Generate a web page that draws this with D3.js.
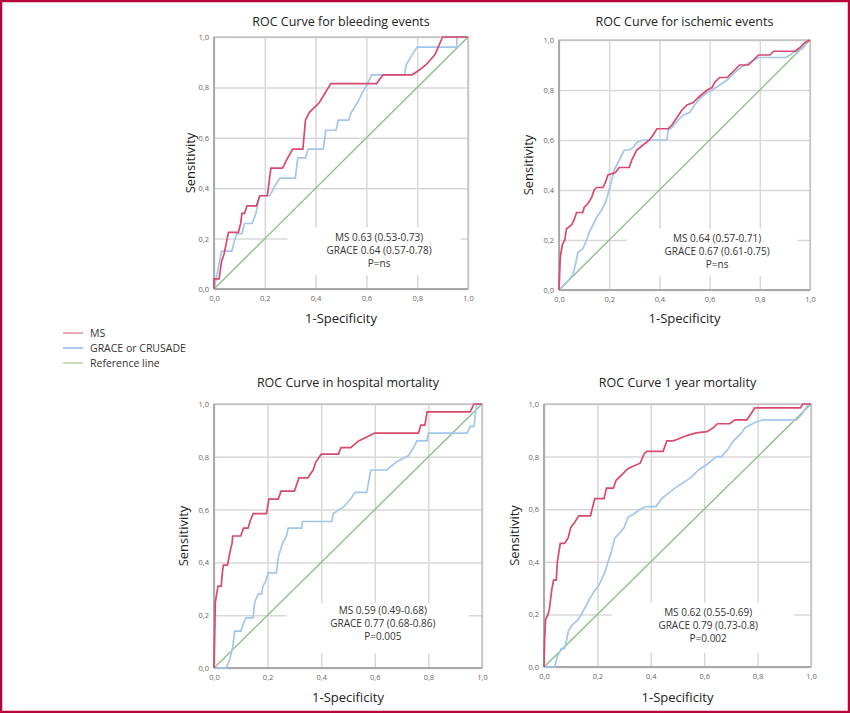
<!DOCTYPE html>
<html>
<head>
<meta charset="utf-8">
<script src="https://cdn.jsdelivr.net/npm/d3@7"></script>
<style>
  body { margin: 0; background: #fff; }
  svg { display: block; font-family: "Open Sans", sans-serif; }
</style>
</head>
<body>
<div id="chart"></div>
<script>
// ROC points [1-specificity, sensitivity]
const msBleeding = [[0,0],[0,0.04],[0.02,0.04],[0.03,0.11],[0.04,0.14],[0.057,0.225],[0.096,0.225],[0.105,0.26],[0.11,0.30],[0.12,0.30],[0.13,0.33],[0.167,0.33],[0.18,0.37],[0.21,0.37],[0.224,0.48],[0.27,0.48],[0.29,0.52],[0.31,0.555],[0.35,0.555],[0.36,0.67],[0.375,0.70],[0.415,0.74],[0.46,0.815],[0.64,0.815],[0.665,0.85],[0.78,0.85],[0.81,0.87],[0.835,0.89],[0.87,0.93],[0.90,1.0],[1,1]]
const graceBleeding = [[0,0],[0.02,0.10],[0.03,0.15],[0.07,0.15],[0.08,0.19],[0.09,0.22],[0.11,0.22],[0.12,0.26],[0.15,0.26],[0.165,0.30],[0.18,0.37],[0.22,0.37],[0.24,0.41],[0.26,0.44],[0.32,0.44],[0.325,0.48],[0.33,0.52],[0.36,0.52],[0.37,0.555],[0.43,0.555],[0.435,0.59],[0.44,0.63],[0.48,0.63],[0.49,0.67],[0.53,0.67],[0.54,0.70],[0.565,0.74],[0.585,0.78],[0.605,0.815],[0.62,0.85],[0.75,0.85],[0.757,0.89],[0.78,0.93],[0.80,0.96],[0.955,0.96],[0.957,1.0],[1,1]]

const msIschemic = [[0,0],[0.005,0.13],[0.013,0.18],[0.023,0.20],[0.03,0.245],[0.05,0.26],[0.06,0.28],[0.07,0.31],[0.095,0.31],[0.10,0.33],[0.115,0.345],[0.13,0.37],[0.14,0.40],[0.15,0.41],[0.175,0.41],[0.185,0.43],[0.195,0.46],[0.225,0.47],[0.24,0.49],[0.28,0.49],[0.29,0.52],[0.31,0.56],[0.335,0.58],[0.36,0.60],[0.375,0.62],[0.39,0.645],[0.435,0.645],[0.45,0.66],[0.47,0.69],[0.49,0.72],[0.51,0.74],[0.535,0.75],[0.555,0.77],[0.59,0.80],[0.61,0.81],[0.62,0.83],[0.64,0.85],[0.67,0.85],[0.69,0.87],[0.72,0.90],[0.755,0.90],[0.775,0.92],[0.795,0.94],[0.84,0.94],[0.855,0.955],[0.94,0.955],[0.96,0.97],[0.98,0.99],[1,1]]
const graceIschemic = [[0,0],[0.03,0.03],[0.055,0.06],[0.065,0.10],[0.075,0.15],[0.095,0.165],[0.11,0.20],[0.12,0.23],[0.135,0.26],[0.15,0.29],[0.17,0.32],[0.185,0.35],[0.20,0.40],[0.21,0.44],[0.22,0.48],[0.23,0.50],[0.245,0.53],[0.26,0.56],[0.28,0.56],[0.295,0.57],[0.31,0.59],[0.335,0.60],[0.43,0.60],[0.435,0.64],[0.45,0.65],[0.475,0.68],[0.495,0.70],[0.52,0.71],[0.54,0.74],[0.565,0.77],[0.59,0.79],[0.61,0.80],[0.64,0.82],[0.67,0.84],[0.70,0.87],[0.725,0.89],[0.76,0.91],[0.795,0.93],[0.905,0.93],[0.935,0.95],[0.975,0.97],[0.99,1.0],[1,1]]

const msHospital = [[0,0],[0.002,0.10],[0.005,0.25],[0.01,0.28],[0.015,0.31],[0.027,0.31],[0.031,0.36],[0.035,0.39],[0.05,0.39],[0.056,0.42],[0.062,0.45],[0.067,0.47],[0.07,0.50],[0.10,0.50],[0.11,0.53],[0.127,0.53],[0.136,0.56],[0.146,0.585],[0.196,0.585],[0.205,0.64],[0.24,0.64],[0.25,0.67],[0.30,0.67],[0.317,0.72],[0.35,0.72],[0.37,0.75],[0.38,0.78],[0.40,0.81],[0.464,0.81],[0.474,0.835],[0.51,0.835],[0.54,0.86],[0.57,0.875],[0.60,0.89],[0.763,0.89],[0.772,0.92],[0.787,0.92],[0.795,0.97],[0.956,0.97],[0.97,1.0],[1,1]]
const graceHospital = [[0,0],[0.046,0],[0.058,0.03],[0.07,0.08],[0.077,0.14],[0.10,0.14],[0.11,0.17],[0.12,0.19],[0.146,0.19],[0.152,0.25],[0.165,0.28],[0.177,0.28],[0.183,0.31],[0.193,0.33],[0.202,0.36],[0.233,0.36],[0.24,0.42],[0.255,0.47],[0.27,0.50],[0.277,0.53],[0.327,0.53],[0.33,0.555],[0.44,0.555],[0.445,0.585],[0.483,0.61],[0.51,0.64],[0.526,0.665],[0.57,0.665],[0.585,0.75],[0.645,0.75],[0.68,0.78],[0.726,0.805],[0.745,0.835],[0.757,0.86],[0.795,0.86],[0.80,0.89],[0.944,0.89],[0.957,0.915],[0.97,0.915],[0.98,1.0],[1,1]]

const msYear = [[0,0],[0.002,0.10],[0.006,0.18],[0.015,0.20],[0.02,0.22],[0.03,0.30],[0.036,0.33],[0.046,0.33],[0.05,0.40],[0.061,0.47],[0.077,0.47],[0.09,0.49],[0.10,0.53],[0.115,0.55],[0.13,0.575],[0.174,0.575],[0.19,0.64],[0.225,0.64],[0.234,0.68],[0.26,0.68],[0.27,0.71],[0.296,0.735],[0.315,0.755],[0.36,0.775],[0.375,0.81],[0.385,0.82],[0.446,0.82],[0.46,0.86],[0.484,0.86],[0.51,0.87],[0.535,0.88],[0.57,0.89],[0.61,0.895],[0.635,0.91],[0.65,0.925],[0.695,0.925],[0.715,0.94],[0.76,0.94],[0.77,0.955],[0.79,0.985],[0.96,0.985],[0.97,1.0],[1,1]]
const graceYear = [[0,0],[0.04,0],[0.05,0.04],[0.065,0.07],[0.077,0.07],[0.084,0.10],[0.092,0.14],[0.106,0.16],[0.128,0.18],[0.14,0.20],[0.156,0.23],[0.171,0.26],[0.19,0.29],[0.205,0.31],[0.215,0.33],[0.228,0.36],[0.24,0.40],[0.253,0.44],[0.265,0.49],[0.284,0.51],[0.30,0.53],[0.315,0.57],[0.334,0.58],[0.36,0.60],[0.384,0.61],[0.42,0.61],[0.44,0.64],[0.465,0.66],[0.49,0.68],[0.52,0.70],[0.55,0.72],[0.58,0.75],[0.61,0.77],[0.646,0.80],[0.665,0.80],[0.69,0.83],[0.71,0.86],[0.74,0.89],[0.753,0.91],[0.79,0.93],[0.82,0.94],[0.946,0.94],[0.965,0.96],[0.99,1.0],[1,1]]

const referenceLine = [[0,0],[1,1]]
const tickValues = [0, 0.2, 0.4, 0.6, 0.8, 1]

const titles = ['ROC Curve for bleeding events', 'ROC Curve for ischemic events', 'ROC Curve in hospital mortality', 'ROC Curve 1 year mortality']
const aucNotes = [
    ['MS 0.63 (0.53-0.73)', 'GRACE 0.64 (0.57-0.78)', 'P=ns'],
    ['MS 0.64 (0.57-0.71)', 'GRACE 0.67 (0.61-0.75)', 'P=ns'],
    ['MS 0.59 (0.49-0.68)', 'GRACE 0.77 (0.68-0.86)', 'P=0.005'],
    ['MS 0.62 (0.55-0.69)', 'GRACE 0.79 (0.73-0.8)', 'P=0.002']
]
const msSeries = [msBleeding, msIschemic, msHospital, msYear]
const graceSeries = [graceBleeding, graceIschemic, graceHospital, graceYear]

const legendNames = ['MS', 'GRACE or CRUSADE', 'Reference line']

const colMS = '#d84a6e', colGrace = '#a3c6ec', colRef = '#86bf7f'
const legendCols = ['#e47b8c', '#7fa9e6', '#a9d18e']

const width = 850, height = 713
const svg = d3.select('#chart').append('svg')
    .attr('width', width)
    .attr('height', height)

// page frame
svg.append('rect')
    .attr('x', 1).attr('y', 1)
    .attr('width', width - 2).attr('height', height - 2)
    .attr('fill', 'none')
    .attr('stroke', '#b8063b')
    .attr('stroke-width', 2.5)

// plot boxes
const panels = [
    {x: 214, y: 37, w: 254, h: 252, titleY: 26, xLabY: 323, yLabX: 190},
    {x: 559, y: 40, w: 251, h: 250, titleY: 26, xLabY: 323, yLabX: 528},
    {x: 214, y: 404, w: 268, h: 264, titleY: 387, xLabY: 702, yLabX: 183},
    {x: 544, y: 404, w: 267, h: 263, titleY: 387, xLabY: 702, yLabX: 514}
]
const notePos = [
    {cx: 0.65, y0: 0.205},
    {cx: 0.63, y0: 0.21},
    {cx: 0.63, y0: 0.22},
    {cx: 0.615, y0: 0.21}
]

panels.forEach((p, i) => {
    const g = svg.append('g').attr('transform', `translate(${p.x},${p.y})`)
    const x = d3.scaleLinear().domain([0, 1]).range([0, p.w])
    const y = d3.scaleLinear().domain([0, 1]).range([p.h, 0])
    const fmt = d => d3.format('.1f')(d).replace('.', ',')

    // grid
    g.append('g')
        .attr('transform', `translate(0,${p.h})`)
        .call(d3.axisBottom(x).tickValues(tickValues).tickSize(-p.h).tickFormat(''))
        .call(a => a.select('.domain').remove())
        .selectAll('line').attr('stroke', '#d8d8d8').attr('stroke-width', 1.5)
    g.append('g')
        .call(d3.axisLeft(y).tickValues(tickValues).tickSize(-p.w).tickFormat(''))
        .call(a => a.select('.domain').remove())
        .selectAll('line').attr('stroke', '#d8d8d8').attr('stroke-width', 1.5)

    // white patch behind the AUC text
    g.append('rect')
        .attr('x', x(notePos[i].cx - 0.36)).attr('y', y(0.245))
        .attr('width', x(0.68)).attr('height', y(0.055) - y(0.245))
        .attr('fill', '#fff')

    // box
    g.append('rect')
        .attr('width', p.w).attr('height', p.h)
        .attr('fill', 'none').attr('stroke', '#b0b0b0').attr('stroke-width', 1)
    g.append('line')
        .attr('y1', 0).attr('y2', p.h)
        .attr('stroke', '#a8a8a8').attr('stroke-width', 1.8)
    g.append('line')
        .attr('x1', 0).attr('x2', p.w).attr('y1', p.h).attr('y2', p.h)
        .attr('stroke', '#a8a8a8').attr('stroke-width', 1.8)

    // tick labels
    g.append('g')
        .attr('transform', `translate(0,${p.h})`)
        .call(d3.axisBottom(x).tickValues(tickValues).tickSize(0).tickPadding(7).tickFormat(fmt))
        .call(a => a.select('.domain').remove())
        .selectAll('text').attr('fill', '#666').style('font-size', '7.5px').style('font-family', '"Open Sans", sans-serif')
    g.append('g')
        .call(d3.axisLeft(y).tickValues(tickValues).tickSize(0).tickPadding(5).tickFormat(fmt))
        .call(a => a.select('.domain').remove())
        .selectAll('text').attr('fill', '#666').style('font-size', '7.5px').style('font-family', '"Open Sans", sans-serif')

    const line = d3.line().x(d => x(d[0])).y(d => y(d[1]))
    g.append('path').datum(referenceLine).attr('d', line)
        .attr('fill', 'none').attr('stroke', colRef).attr('stroke-width', 1.3)
    g.append('path').datum(graceSeries[i]).attr('d', line)
        .attr('fill', 'none').attr('stroke', colGrace).attr('stroke-width', 1.7)
    g.append('path').datum(msSeries[i]).attr('d', line)
        .attr('fill', 'none').attr('stroke', colMS).attr('stroke-width', 1.7)

    // AUC text
    g.selectAll('.note')
        .data(aucNotes[i])
        .enter()
        .append('text')
        .attr('x', x(notePos[i].cx))
        .attr('y', (_, k) => y(notePos[i].y0) + k * 13 + 4)
        .attr('text-anchor', 'middle')
        .attr('fill', '#333')
        .style('font-size', '10px')
        .text(d => d)

    // titles and labels
    svg.append('text')
        .attr('x', p.x + p.w / 2).attr('y', p.titleY)
        .attr('text-anchor', 'middle')
        .attr('fill', '#222')
        .style('font-size', '12.5px')
        .text(titles[i])
    svg.append('text')
        .attr('x', p.x + p.w / 2).attr('y', p.xLabY)
        .attr('text-anchor', 'middle')
        .attr('fill', '#222')
        .style('font-size', '13px')
        .text('1-Specificity')
    svg.append('text')
        .attr('transform', `translate(${p.yLabX},${p.y + p.h / 2}) rotate(-90)`)
        .attr('text-anchor', 'middle')
        .attr('dy', '0.35em')
        .attr('fill', '#222')
        .style('font-size', '13px')
        .text('Sensitivity')
})

// legend
const lg = svg.append('g').attr('transform', 'translate(63,333)')
lg.selectAll('line')
    .data(legendNames)
    .enter()
    .append('line')
    .attr('x1', 0).attr('x2', 20)
    .attr('y1', (_, i) => i * 15).attr('y2', (_, i) => i * 15)
    .attr('stroke', (_, i) => legendCols[i])
    .attr('stroke-width', 1.3)
lg.selectAll('text')
    .data(legendNames)
    .enter()
    .append('text')
    .attr('x', 27)
    .attr('y', (_, i) => i * 15)
    .attr('dy', '0.35em')
    .attr('fill', '#333')
    .style('font-size', '10.5px')
    .text(d => d)
</script>
</body>
</html>
